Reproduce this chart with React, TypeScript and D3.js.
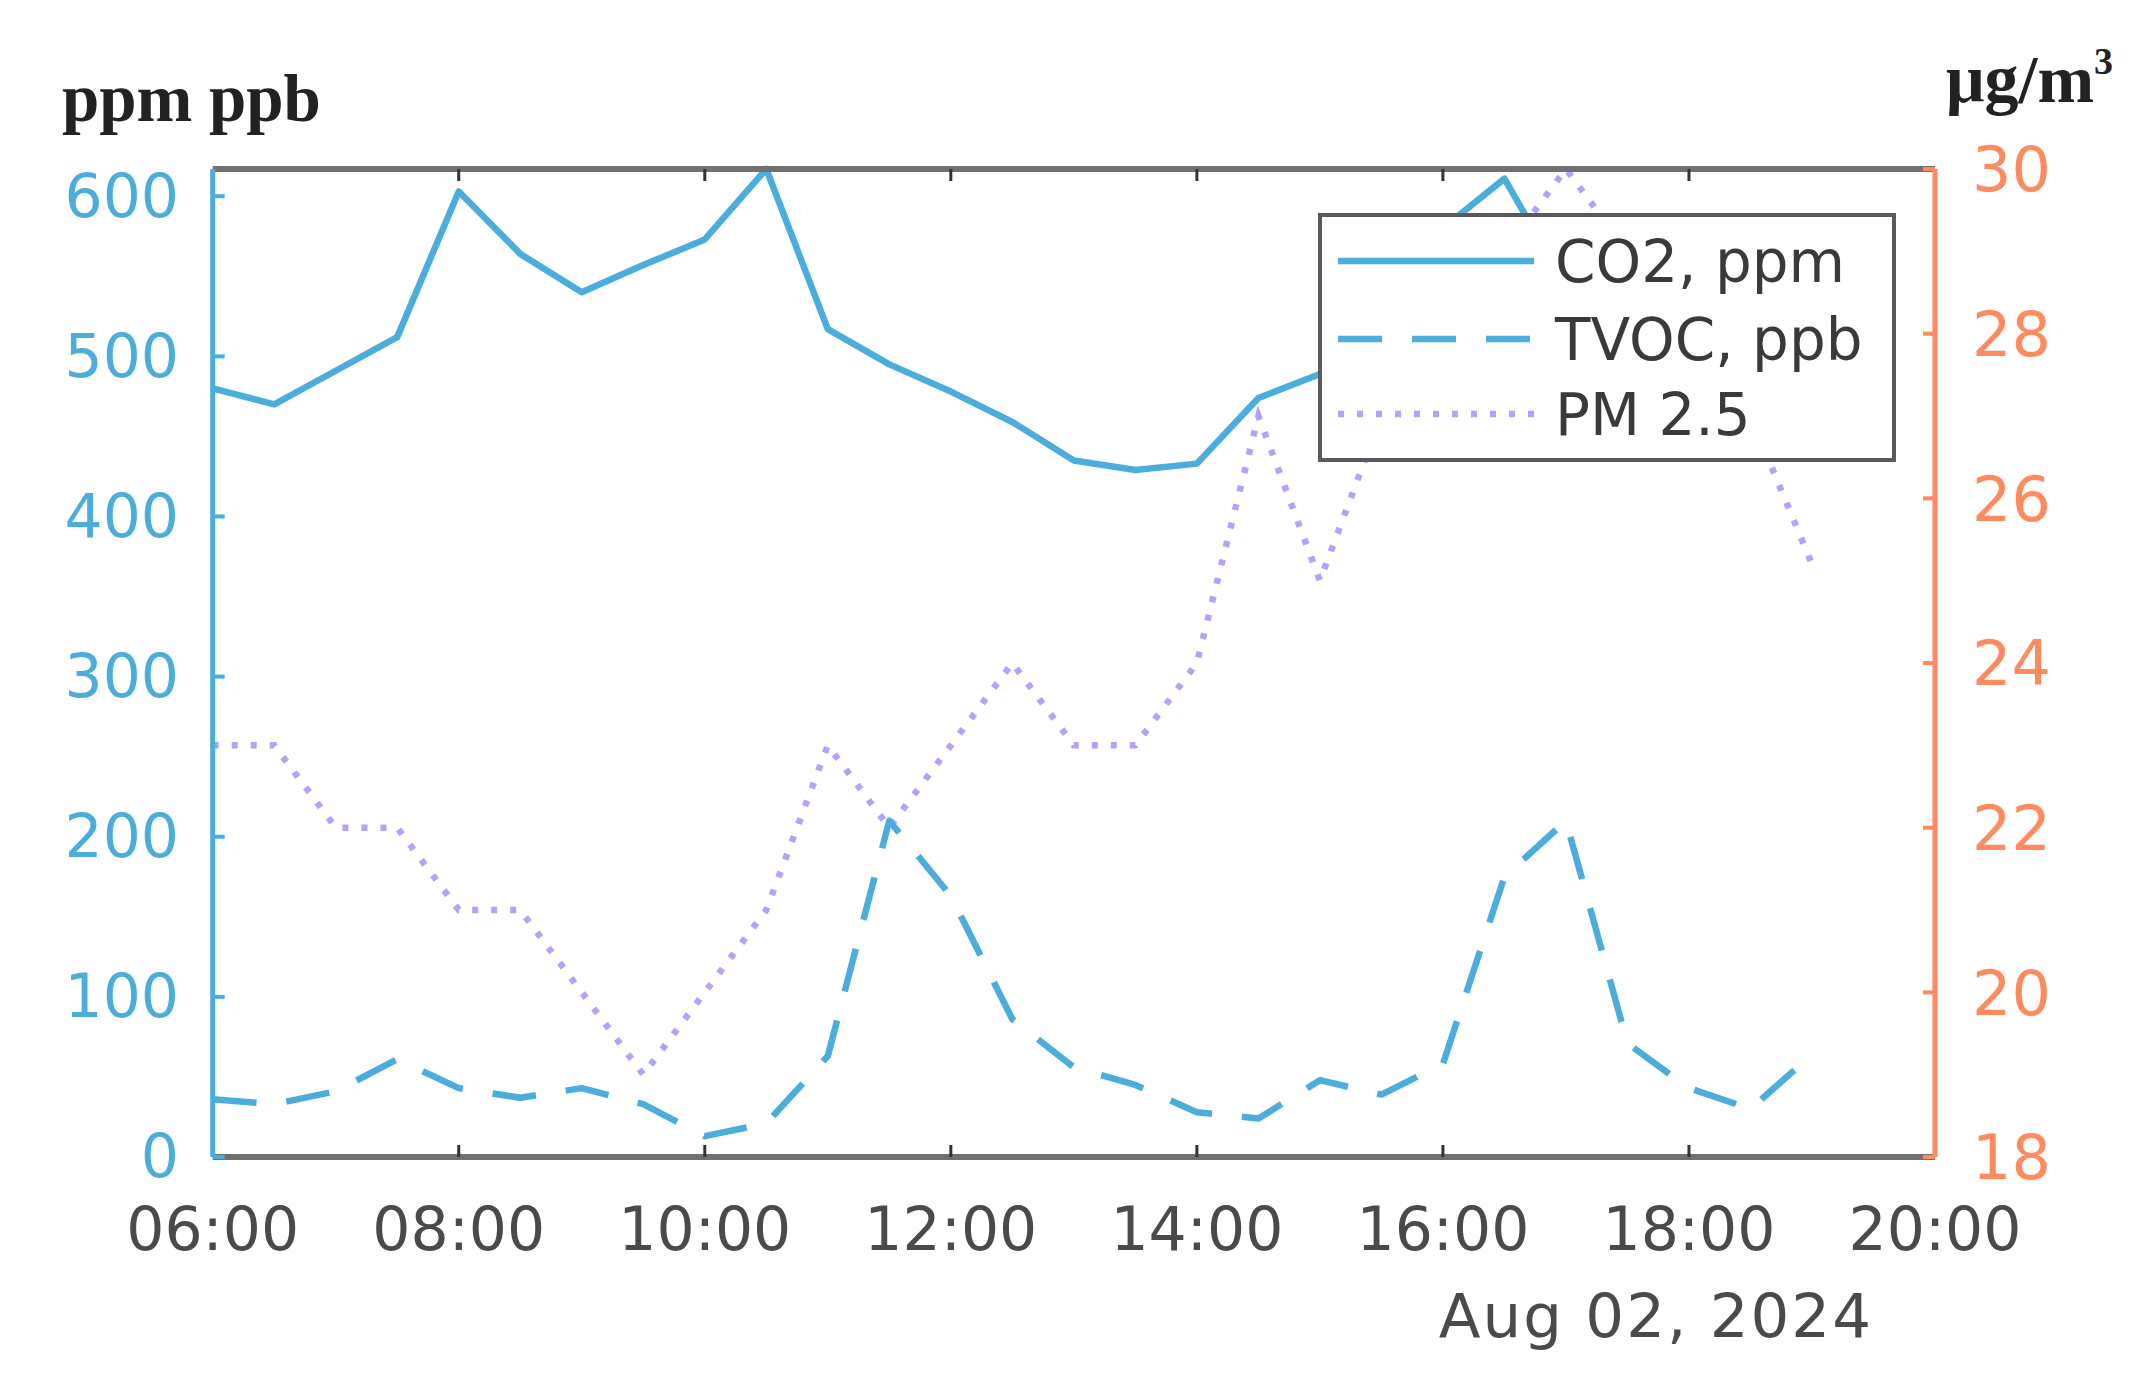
import React from 'react';
import * as d3 from 'd3';

const times = ["06:00","06:30","07:00","07:30","08:00","08:30","09:00","09:30","10:00","10:30","11:00","11:30","12:00","12:30","13:00","13:30","14:00","14:30","15:00","15:30","16:00","16:30","17:00","17:30","18:00","18:30","19:00"];
const co2 = [480,470,491,512,603,564,540,557,573,617,517,495,478,459,435,429,433,474,489,540,580,611,544,525,512,500,490];
const tvoc = [36,33,41,61,43,37,43,33,13,21,63,210,163,86,56,45,28,24,48,39,58,175,210,71,43,30,64];
const pm25 = [23,23,22,22,21,21,20,19,20,21,23,22,23,24,23,23,24,27,25,27,28,29,30,29,28,27,25.2];

const xTicks = ["06:00","08:00","10:00","12:00","14:00","16:00","18:00","20:00"];
const leftTicks = [0,100,200,300,400,500,600];
const rightTicks = [18,20,22,24,26,28,30];
const legendLabels = ["CO2, ppm","TVOC, ppb","PM 2.5"];
const dateLabel = "Aug 02, 2024";

const BLUE = "#4AADDC";
const ORANGE = "#FF8A5E";
const PURPLE = "#A9A6FB";
const GREY = "#707070";
const TEXT = "#4a4a4a";

const toDate = (t: string) => {
  const [h, m] = t.split(":").map(Number);
  return new Date(2024, 7, 2, h, m);
};

export default function App() {
  const W = 2152, H = 1385;
  const L = 212.7, R = 1935, T = 169, B = 1157;
  const x = d3.scaleTime().domain([toDate("06:00"), toDate("20:00")]).range([L, R]);
  const yL = d3.scaleLinear().domain([0, 617]).range([B, T]);
  const yR = d3.scaleLinear().domain([18, 30]).range([B, T]);

  const lineL = d3.line<number>().x((_, i) => x(toDate(times[i]))).y(d => yL(d));
  const lineR = d3.line<number>().x((_, i) => x(toDate(times[i]))).y(d => yR(d));

  const font = "'DejaVu Sans', sans-serif";
  const serif = "'Liberation Serif', 'Times New Roman', serif";

  const legX = 1320, legY = 215, legW = 574, legH = 245;
  const rows = [261, 339, 414];
  const styles = [
    { stroke: BLUE, dash: undefined as string | undefined, w: 6.5 },
    { stroke: BLUE, dash: "44,30", w: 6.5 },
    { stroke: PURPLE, dash: "6,13", w: 6.5 },
  ];

  return (
    <svg width={W} height={H} style={{ position: 'absolute', left: 0, top: 0, background: '#fff' }}>
      <rect x={0} y={0} width={W} height={H} fill="#fff" />
      {/* data lines */}
      <path d={lineR(pm25) || ''} fill="none" stroke={PURPLE} strokeWidth={6.5} strokeDasharray="6,13" />
      <path d={lineL(tvoc) || ''} fill="none" stroke={BLUE} strokeWidth={6.5} strokeDasharray="44,30" strokeLinejoin="round" />
      <path d={lineL(co2) || ''} fill="none" stroke={BLUE} strokeWidth={6.5} strokeLinejoin="round" />

      {/* top & bottom axes */}
      <line x1={L} x2={R} y1={T} y2={T} stroke={GREY} strokeWidth={6} />
      <line x1={L} x2={R} y1={B} y2={B} stroke={GREY} strokeWidth={6} />
      {xTicks.map(t => {
        const xx = x(toDate(t));
        return (
          <g key={t}>
            <line x1={xx} x2={xx} y1={T} y2={T + 12} stroke="#333" strokeWidth={3} />
            <line x1={xx} x2={xx} y1={B} y2={B - 12} stroke="#333" strokeWidth={3} />
            <text x={xx} y={1250} textAnchor="middle" fontFamily={font} fontSize={60} fill={TEXT}>{t}</text>
          </g>
        );
      })}
      <text x={1873} y={1337} textAnchor="end" fontFamily={font} fontSize={61} fill={TEXT} letterSpacing={2}>{dateLabel}</text>

      {/* left axis */}
      <line x1={L} x2={L} y1={T} y2={B} stroke={BLUE} strokeWidth={5} />
      {leftTicks.map(v => (
        <g key={v}>
          <line x1={L} x2={L + 12} y1={yL(v)} y2={yL(v)} stroke={BLUE} strokeWidth={4} />
          <text x={179} y={yL(v)} dy="0.34em" textAnchor="end" fontFamily={font} fontSize={60} fill={BLUE}>{v}</text>
        </g>
      ))}

      {/* right axis */}
      <line x1={R} x2={R} y1={T} y2={B} stroke={ORANGE} strokeWidth={5} />
      {rightTicks.map(v => (
        <g key={v}>
          <line x1={R} x2={R - 12} y1={yR(v)} y2={yR(v)} stroke={ORANGE} strokeWidth={4} />
          <text x={1972} y={yR(v)} dy="0.36em" textAnchor="start" fontFamily={font} fontSize={62} fill={ORANGE}>{v}</text>
        </g>
      ))}

      {/* unit labels */}
      <text x={62} y={121} fontFamily={serif} fontWeight="bold" fontSize={67} fill="#222">ppm ppb</text>
      <text x={1946} y={102} fontFamily={serif} fontWeight="bold" fontSize={68} fill="#222">
        μg/m<tspan fontSize={38} dy={-28}>3</tspan>
      </text>

      {/* legend */}
      <rect x={legX} y={legY} width={legW} height={legH} fill="#fff" stroke="#5a5a5a" strokeWidth={4} />
      {legendLabels.map((lab, i) => (
        <g key={lab}>
          <line x1={1338} x2={1534} y1={rows[i]} y2={rows[i]} stroke={styles[i].stroke} strokeWidth={styles[i].w} strokeDasharray={styles[i].dash} />
          <text x={1555} y={rows[i]} dy="0.36em" fontFamily={font} fontSize={58} fill="#3a3a3a">{lab}</text>
        </g>
      ))}
    </svg>
  );
}
